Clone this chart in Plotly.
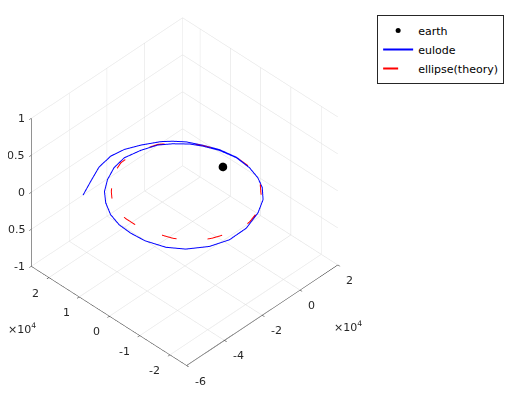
import plotly.graph_objects as go

# Data (km)
earth_x = [0]
earth_y = [0]
earth_z = [0]

eulode_x = [6500, 7200, 5800, 3200, 600, -3700, -8100, -14600, -21900, -28600, -35100, -40700, -45000, -48500, -50400, -50800, -50200, -47400, -43000, -35800, -27900, -18800, -9600, -2900, 1800, 4600, 6500, 7400, 6100, 3600, 600, -2600, -5800, -12400, -18500, -24700, -32200, -40100, -47700]
eulode_y = [-4800, 0, 4700, 8600, 11400, 14300, 16500, 18000, 18900, 18100, 16200, 13700, 10600, 6800, 2800, -1300, -5600, -10800, -14600, -17900, -19600, -19500, -17600, -15100, -11900, -8700, -4800, 100, 4900, 8800, 12500, 14900, 16800, 19300, 21000, 21600, 20800, 18600, 16400]
eulode_z = [0] * len(eulode_x)

ellipse_x = [-1400, 2500, 5200, 6900, 7400, 6000, 3400, 0, -4400, -7900, -11800, -18400, -24800, -29800, -34500, -39000, -42400, -44200, -45500, -46200, -46200, -45500, -43900, -42000, -39400, -35900, -31700, -26500, -21000, -15600, -10400, -6200, -1400]
ellipse_y = [-13500, -10800, -7900, -4600, 100, 4800, 8700, 12100, 14900, 16700, 17500, 18400, 18200, 17000, 15000, 12500, 10100, 8200, 5900, 3200, 100, -3000, -6400, -9600, -12400, -14700, -16300, -17600, -18600, -18500, -17500, -16000, -13500]
ellipse_z = [0] * len(ellipse_x)

x_range = [-60000, 20000]
y_range = [-25500, 25800]
z_range = [-1, 1]
x_ticks = [-60000, -40000, -20000, 0, 20000]
x_ticktext = ['-6', '-4', '-2', '0', '2']
y_ticks = [-20000, -10000, 0, 10000, 20000]
y_ticktext = ['-2', '-1', '0', '1', '2']
z_ticks = [-1, -0.5, 0, 0.5, 1]
z_ticktext = ['-1', '-0.5', '0', '0.5', '1']

FONT = "DejaVu Sans"
TXT = '#262626'
TF = dict(family=FONT, size=11, color=TXT)

fig = go.Figure()
fig.add_trace(go.Scatter3d(x=earth_x, y=earth_y, z=earth_z, mode='markers', name='earth',
                           marker=dict(color='black', size=5, line=dict(width=0))))
fig.add_trace(go.Scatter3d(x=eulode_x, y=eulode_y, z=eulode_z, mode='lines', name='eulode',
                           line=dict(color='#0000ff', width=2)))
fig.add_trace(go.Scatter3d(x=ellipse_x, y=ellipse_y, z=ellipse_z, mode='lines', name='ellipse(theory)',
                           line=dict(color='#ff0000', width=2, dash='longdash')))

def ax(rng, tv):
    return dict(range=rng, tickvals=tv, autorange=False, showticklabels=False,
                showgrid=True, gridcolor='#dedede', gridwidth=1,
                showline=True, linecolor='#262626', linewidth=1,
                ticks='outside', tickcolor='#262626', ticklen=3,
                showbackground=False, zeroline=False, showspikes=False,
                title=dict(text=''))

ann = []
for v, t in zip(x_ticks, x_ticktext):
    ann.append(dict(x=v, y=y_range[0], z=z_range[0], text=t, showarrow=False,
                    xanchor='left', yanchor='middle', xshift=6.5, yshift=-15.5, font=TF))
for v, t in zip(y_ticks, y_ticktext):
    ann.append(dict(x=x_range[0], y=v, z=z_range[0], text=t, showarrow=False,
                    xanchor='right', yanchor='middle', xshift=-7.5, yshift=-15.5, font=TF))
for v, t in zip(z_ticks, z_ticktext):
    ann.append(dict(x=x_range[0], y=y_range[1], z=v, text=t, showarrow=False,
                    xanchor='right', yanchor='middle', xshift=-4, yshift=0, font=TF))

cx, cy, cz = 0.0087, -0.0573, -0.0394
dx, dy, dz = -1.083, -1.061, 1.304
fig.update_layout(
    width=517, height=399,
    margin=dict(l=0, r=0, t=0, b=0),
    paper_bgcolor='white',
    font=dict(family=FONT, size=11, color=TXT),
    scene=dict(
        xaxis=ax(x_range, x_ticks),
        yaxis=ax(y_range, y_ticks),
        zaxis=ax(z_range, z_ticks),
        aspectmode='manual', aspectratio=dict(x=1.140, y=1.147, z=1.03),
        camera=dict(eye=dict(x=dx + cx, y=dy + cy, z=dz + cz), up=dict(x=0, y=0, z=1),
                    center=dict(x=cx, y=cy, z=cz), projection=dict(type='orthographic')),
        domain=dict(x=[0.0, 0.717], y=[0.04, 0.99]),
        annotations=ann,
    ),
    legend=dict(x=0.714, y=0.9826, xanchor='left', yanchor='top',
                bordercolor='#262626', borderwidth=1, bgcolor='white',
                font=dict(family=FONT, size=11, color='black')),
    annotations=[
        dict(text='×10<sup>4</sup>', x=14/517, y=1-320/399, xref='paper', yref='paper',
             xanchor='center', yanchor='middle', showarrow=False, font=TF),
        dict(text='×10<sup>4</sup>', x=340/517, y=1-318/399, xref='paper', yref='paper',
             xanchor='center', yanchor='middle', showarrow=False, font=TF),
    ],
)
fig.write_html("out.html")
